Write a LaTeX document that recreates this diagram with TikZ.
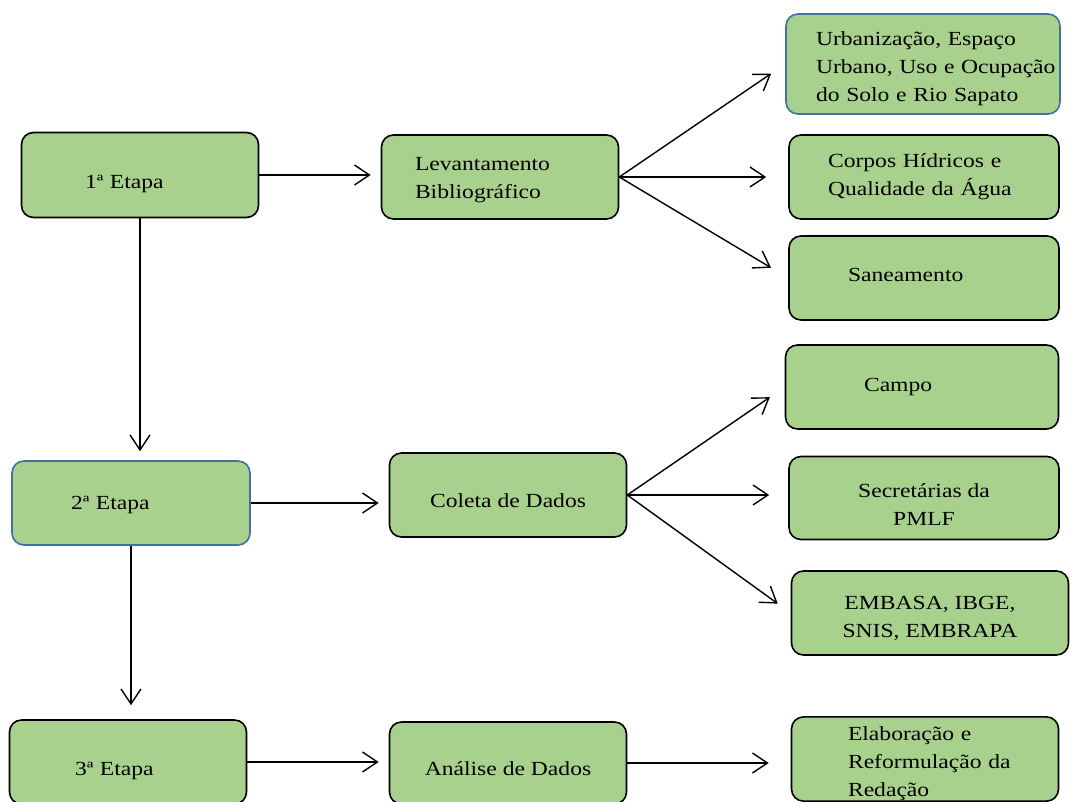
\documentclass[tikz,border=0pt]{standalone}
\usepackage{fontspec}
\setmainfont[FakeStretch=1.18]{Liberation Serif}
\usepackage{xcolor}
\usetikzlibrary{arrows.meta,positioning,calc}
\definecolor{boxgreen}{HTML}{A9D18E}
\definecolor{boxblue}{HTML}{41719C}
\newcommand{\desce}[1]{\rule{0pt}{#1}}
\newcommand{\sobe}[1]{\rule[-#1]{0pt}{#1}}
\begin{document}
\begin{tikzpicture}[x=1pt, y=-1pt, font=\fontsize{20}{28}\selectfont,
    etapa/.style={draw, line width=1.6pt, rounded corners=12pt, fill=boxgreen, minimum width=#1, inner sep=0pt},
    seta/.style={-{Straight Barb[length=15pt, width=20pt]}, line width=1.4pt}]
    \useasboundingbox (0,0) rectangle (1070,802);
    % coluna das etapas
    \node[etapa=237pt, minimum height=85pt, text width=110pt, align=left] (E1) at (140,175) {\desce{32pt}1ª Etapa};
    \node[etapa=238pt, minimum height=84pt, text width=120pt, align=left, draw=boxblue] (E2) at (131,503) {\desce{17pt}2ª Etapa};
    \node[etapa=237pt, minimum height=84pt, text width=106pt, align=left] (E3) at (128,762) {\desce{32pt}3ª Etapa};
    % coluna do meio
    \node[etapa=237pt, minimum height=84pt, text width=170pt, align=left] (LB) at (500,177) {\desce{20pt}Levantamento\\Bibliográfico};
    \node[etapa=237pt, minimum height=84pt, align=center] (CD) at (508,495) {\desce{26pt}Coleta de Dados};
    \node[etapa=237pt, minimum height=82pt, align=center] (AD) at (508,763) {\desce{26pt}Análise de Dados};
    % coluna da direita
    \node[etapa=274pt, minimum height=100pt, text width=214pt, align=left, draw=boxblue] (UR) at (923,64) {\desce{24pt}Urbanização, Espaço\\\mbox{Urbano, Uso e Ocupação}\\do Solo e Rio Sapato};
    \node[etapa=270pt, minimum height=84pt, text width=192pt, align=left] (CH) at (924,177) {Corpos Hídricos e\\Qualidade da Água};
    \node[etapa=270pt, minimum height=84pt, text width=152pt, align=left] (SA) at (924,278) {Saneamento\sobe{7pt}};
    \node[etapa=273pt, minimum height=84pt, text width=116pt, align=left] (CA) at (922,387) {Campo};
    \node[etapa=270pt, minimum height=83pt, align=center] (SE) at (924,498) {\desce{26pt}Secretárias da\\PMLF};
    \node[etapa=277pt, minimum height=84pt, align=center] (EB) at (930,613) {\desce{24pt}EMBASA, IBGE,\\SNIS, EMBRAPA};
    \node[etapa=267pt, minimum height=82pt, text width=154pt, align=left] (EL) at (925,759) {\desce{24pt}Elaboração e\\\mbox{Reformulação da}\\Redação};
    % setas
    \draw[seta, shorten >=10pt] (E1.east) -- (E1.east -| LB.west);
    \draw[seta, shorten >=9pt] (E1.south) -- (E1.south |- E2.north);
    \draw[seta, shorten >=10pt] (E2.east) -- (E2.east -| CD.west);
    \draw[seta, shorten >=14pt] (E2.south) -- (E2.south |- E3.north);
    \draw[seta, shorten >=10pt] (E3.east) -- (E3.east -| AD.west);
    \draw[seta, shorten >=17pt] (LB.east) -- (UR.west);
    \draw[seta, shorten >=22pt] (LB.east) -- (LB.east -| CH.west);
    \draw[seta, shorten >=20pt] (LB.east) -- (SA.west);
    \draw[seta, shorten >=18pt] (CD.east) -- (CA.west);
    \draw[seta, shorten >=19pt] (CD.east) -- (CD.east -| SE.west);
    \draw[seta, shorten >=16pt] (CD.east) -- (EB.west);
    \draw[seta, shorten >=22pt] (AD.east) -- (AD.east -| EL.west);
\end{tikzpicture}
\end{document}
